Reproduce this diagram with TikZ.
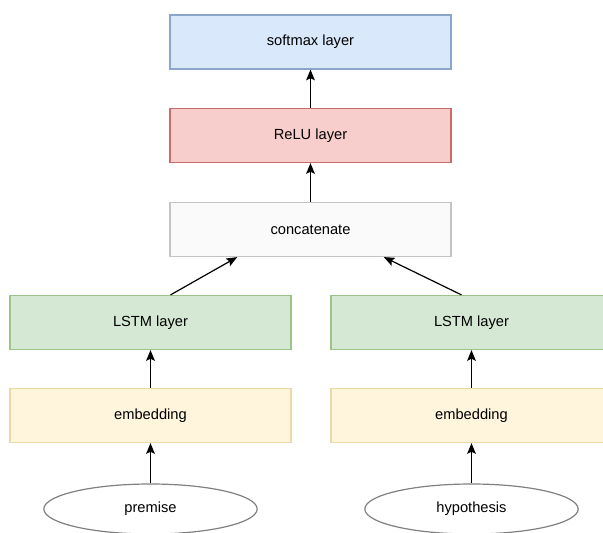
\documentclass[tikz,border=0pt]{standalone}
\usepackage{fontspec}
\setmainfont{Liberation Sans}
\usepackage{xcolor}
\usepackage{tikz}
\usetikzlibrary{arrows.meta, shapes.geometric}

\definecolor{softfill}{HTML}{DAE8FC}
\definecolor{softline}{HTML}{8AA6CC}
\definecolor{relufill}{HTML}{F8CECC}
\definecolor{reluline}{HTML}{C96D69}
\definecolor{catfill}{HTML}{FAFAFA}
\definecolor{catline}{HTML}{C4C4C4}
\definecolor{lstmfill}{HTML}{D5E8D4}
\definecolor{lstmline}{HTML}{9CC487}
\definecolor{embfill}{HTML}{FFF5DD}
\definecolor{embline}{HTML}{EBDAA5}

\begin{document}
\begin{tikzpicture}[x=0.75pt, y=-0.75pt, line width=0.9pt,
    layer/.style={rectangle, draw, minimum width=210.75pt, minimum height=40.5pt,
                  font=\fontsize{11}{13}\selectfont},
    word/.style={ellipse, draw=black!50, fill=white, minimum width=160pt,
                 minimum height=37.5pt, font=\fontsize{11}{13}\selectfont},
    arr/.style={-{Stealth[length=8pt, width=6.5pt, inset=1.5pt]}, line width=0.9pt}]
    \useasboundingbox (0,0) rectangle (603,532);

    \node[layer, fill=softfill, draw=softline](soft) at (310.5, 42) {softmax layer};
    \node[layer, fill=relufill, draw=reluline](relu) at (310.5, 135.5) {ReLU layer};
    \node[layer, fill=catfill, draw=catline](cat) at (310.5, 229.5) {concatenate};

    \node[layer, fill=lstmfill, draw=lstmline](lstmp) at (150.5, 322.5) {LSTM layer};
    \node[layer, fill=lstmfill, draw=lstmline](lstmh) at (471.5, 322.5) {LSTM layer};

    \node[layer, fill=embfill, draw=embline](embp) at (150.5, 415.5) {embedding};
    \node[layer, fill=embfill, draw=embline](embh) at (471.5, 415.5) {embedding};

    \node[word](prem) at (150.5, 509) {premise};
    \node[word](hyp) at (471.5, 509) {hypothesis};

    \draw[arr] (prem) -- (embp);
    \draw[arr] (hyp) -- (embh);
    \draw[arr] (embp) -- (lstmp);
    \draw[arr] (embh) -- (lstmh);
    \draw[arr] ([xshift=15pt]lstmp.north) -- ([xshift=-55pt]cat.south);
    \draw[arr] ([xshift=-7.5pt]lstmh.north) -- ([xshift=55pt]cat.south);
    \draw[arr] (cat) -- (relu);
    \draw[arr] (relu) -- (soft);

  \end{tikzpicture}
\end{document}
